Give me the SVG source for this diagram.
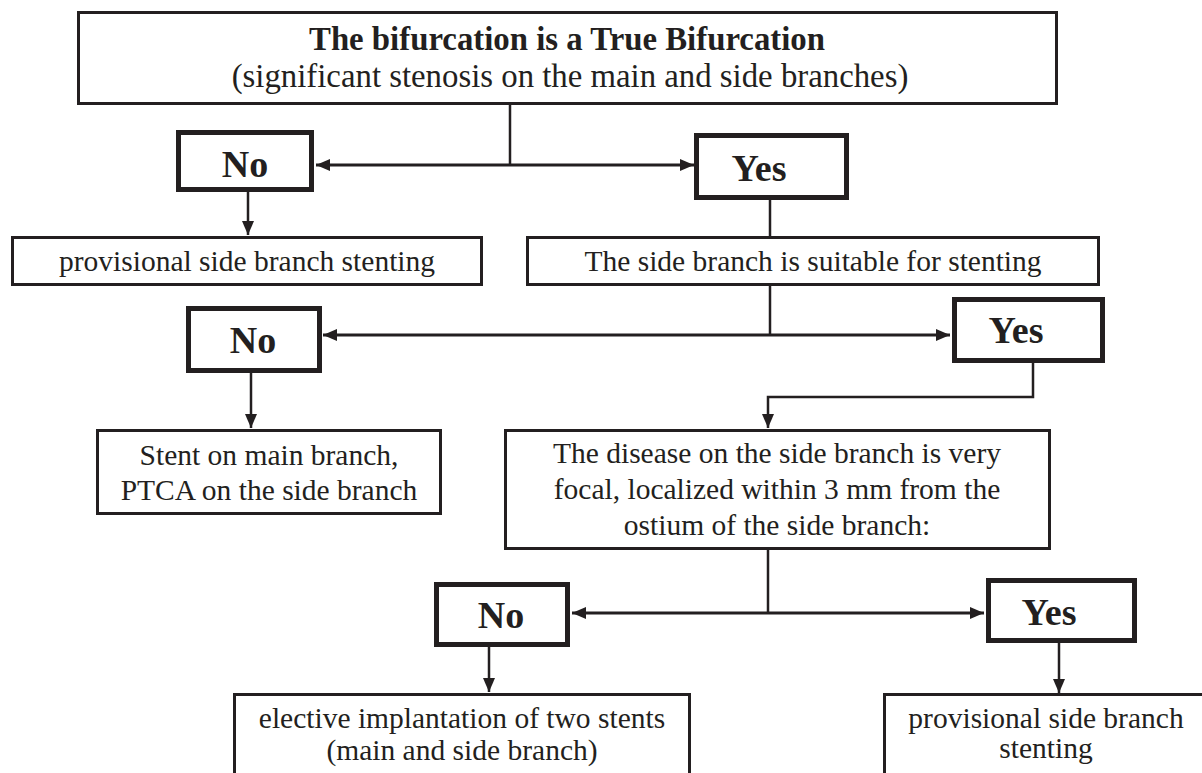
<svg xmlns="http://www.w3.org/2000/svg" width="1202" height="773" viewBox="0 0 1202 773">
<defs>
<marker id="ah" viewBox="0 0 14 12" refX="14" refY="6" markerWidth="14" markerHeight="12" markerUnits="userSpaceOnUse" orient="auto-start-reverse">
<path d="M0,0 L14,6 L0,12 z" fill="#231f20"/>
</marker>
<style>
.box{fill:#fff;stroke:#231f20;stroke-width:3}
.dec{fill:#fff;stroke:#231f20;stroke-width:5}
.t{font-family:"Liberation Serif","Times New Roman",serif;font-size:29.5px;fill:#231f20;text-anchor:middle}
.tt{font-family:"Liberation Serif","Times New Roman",serif;font-size:32.8px;fill:#231f20;text-anchor:middle}
.yn{font-family:"Liberation Serif","Times New Roman",serif;font-size:38px;font-weight:bold;fill:#231f20;text-anchor:middle}
.c{fill:none;stroke:#231f20;stroke-width:2.5}
.h{fill:none;stroke:#231f20;stroke-width:3}
</style>
</defs>
<rect width="1202" height="773" fill="#fff"/>
<g id="connectors">
<path class="c" d="M510,104 V165"/>
<path class="h" d="M316,165 H694" marker-start="url(#ah)" marker-end="url(#ah)"/>
<path class="c" d="M248,192 V235" marker-end="url(#ah)"/>
<path class="c" d="M770,200 V236"/>
<path class="c" d="M770,286 V335"/>
<path class="h" d="M323,335 H950" marker-start="url(#ah)" marker-end="url(#ah)"/>
<path class="c" d="M251,373 V428" marker-end="url(#ah)"/>
<path class="c" d="M1033,363 V397 H768 V428" marker-end="url(#ah)"/>
<path class="c" d="M768,550 V613"/>
<path class="h" d="M572,613 H984" marker-start="url(#ah)" marker-end="url(#ah)"/>
<path class="c" d="M489,647 V692" marker-end="url(#ah)"/>
<path class="c" d="M1059,643 V693" marker-end="url(#ah)"/>
</g>
<g id="n_true">
<rect class="box" x="78.5" y="12.5" width="978" height="91"/>
<text class="tt" x="567" y="50" font-weight="bold">The bifurcation is a True Bifurcation</text>
<text class="tt" x="570" y="87">(significant stenosis on the main and side branches)</text>
</g>
<g id="n_no1">
<rect class="dec" x="178.5" y="132.5" width="133" height="57"/>
<text class="yn" x="245" y="177">No</text>
</g>
<g id="n_yes1">
<rect class="dec" x="696.5" y="135.5" width="150" height="62"/>
<text class="yn" x="759" y="181">Yes</text>
</g>
<g id="n_prov1">
<rect class="box" x="12.5" y="237.5" width="469" height="47"/>
<text class="t" x="247" y="271">provisional side branch stenting</text>
</g>
<g id="n_suitable">
<rect class="box" x="527.5" y="237.5" width="571" height="47"/>
<text class="t" x="813" y="271">The side branch is suitable for stenting</text>
</g>
<g id="n_no2">
<rect class="dec" x="188.5" y="308.5" width="131" height="62"/>
<text class="yn" x="253" y="353">No</text>
</g>
<g id="n_yes2">
<rect class="dec" x="954.5" y="299.5" width="148" height="61"/>
<text class="yn" x="1016" y="343">Yes</text>
</g>
<g id="n_stent">
<rect class="box" x="97.5" y="430.5" width="343" height="83"/>
<text class="t" x="269" y="465">Stent on main branch,</text>
<text class="t" x="269" y="500">PTCA on the side branch</text>
</g>
<g id="n_disease">
<rect class="box" x="505.5" y="430.5" width="544" height="118"/>
<text class="t" x="777" y="463">The disease on the side branch is very</text>
<text class="t" x="777" y="499">focal, localized within 3 mm from the</text>
<text class="t" x="777" y="535">ostium of the side branch:</text>
</g>
<g id="n_no3">
<rect class="dec" x="436.5" y="584.5" width="131" height="60"/>
<text class="yn" x="501" y="628">No</text>
</g>
<g id="n_yes3">
<rect class="dec" x="988.5" y="580.5" width="146" height="60"/>
<text class="yn" x="1049" y="625">Yes</text>
</g>
<g id="n_elective">
<rect class="box" x="234.5" y="694.5" width="455" height="100"/>
<text class="t" x="462" y="728">elective implantation of two stents</text>
<text class="t" x="462" y="760">(main and side branch)</text>
</g>
<g id="n_prov2">
<rect class="box" x="884.5" y="694.5" width="325" height="100"/>
<text class="t" x="1046" y="728">provisional side branch</text>
<text class="t" x="1046" y="758">stenting</text>
</g>
</svg>
